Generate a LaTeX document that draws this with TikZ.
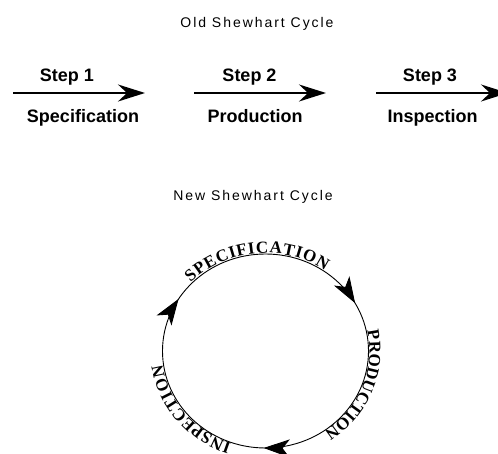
\documentclass[tikz,border=0pt]{standalone}
\usepackage{fontspec}
\setmainfont{Liberation Sans}
\newfontfamily\titlefont[LetterSpace=14]{Liberation Sans}
\newfontfamily\stepfont{Liberation Sans}
\newfontfamily\circfont{Liberation Serif}
\usetikzlibrary{arrows.meta,decorations.text,decorations.markings,calc}
\tikzset{ringarrow/.tip={Stealth[length=26pt, width=18pt, inset=7pt]}}
\begin{document}
\begin{tikzpicture}[x=1pt,y=1pt,
  title/.style={font=\titlefont\fontsize{14}{14}\selectfont, anchor=base, inner sep=0pt},
  steplabel/.style={font=\stepfont\bfseries\fontsize{18}{18}\selectfont, anchor=base, inner sep=0pt},
  steparrow/.style={line width=2pt, -{Stealth[length=27pt, width=17pt, inset=9pt]}},
  cyclering/.style={line width=0.9pt},
  ringtext/.style={decorate, decoration={text along path, text align={fit to path}, raise=1pt, text={#1}}}
]
\useasboundingbox (0,-454) rectangle (498,0);
\fill[white] (0,-454) rectangle (498,0);

% Old cycle
\node[title] (oldt) at (257,-27.3) {Old Shewhart Cycle};
\coordinate (a1s) at (13,-93);  \coordinate (a1e) at (145,-93);
\coordinate (a2s) at (194,-93); \coordinate (a2e) at (326,-93);
\coordinate (a3s) at (376,-93); \coordinate (a3e) at (508,-93);
\draw[steparrow] (a1s) -- (a1e);
\draw[steparrow] (a2s) -- (a2e);
\draw[steparrow] (a3s) -- (a3e);
\node[steplabel] (s1) at (67,-81.7) {Step 1};
\node[steplabel] (s2) at (249.5,-81.7) {Step 2};
\node[steplabel] (s3) at (430,-81.7) {Step 3};
\node[steplabel] (l1) at (83,-122.5) {Specification};
\node[steplabel] (l2) at (255,-122.5) {Production};
\node[steplabel] (l3) at (432.5,-122.5) {Inspection};

% New cycle
\node[title] (newt) at (253,-200.5) {New Shewhart Cycle};
\coordinate (c) at (265.5,-351);
\draw[cyclering, postaction={decorate}, decoration={markings,
    mark=at position 0.170 with {\arrow{ringarrow}},
    mark=at position 0.503 with {\arrow{ringarrow}},
    mark=at position 0.838 with {\arrow{ringarrow}}}]
  (c) ++(90:103pt and 97pt) arc[start angle=90, end angle=-270, x radius=103pt, y radius=97pt];

\path[ringtext={|\circfont\bfseries\fontsize{17}{17}\selectfont|SPECIFICATION}]
  (c) ++(136:103pt and 97pt) arc[start angle=136, end angle=55, x radius=103pt, y radius=97pt];
\path[ringtext={|\circfont\bfseries\fontsize{17}{17}\selectfont|PRODUCTION}]
  (c) ++(12:103pt and 97pt) arc[start angle=12, end angle=-54, x radius=103pt, y radius=97pt];
\path[ringtext={|\circfont\bfseries\fontsize{17}{17}\selectfont|INSPECTION}]
  (c) ++(251:103pt and 97pt) arc[start angle=251, end angle=188, x radius=103pt, y radius=97pt];
\end{tikzpicture}
\end{document}
